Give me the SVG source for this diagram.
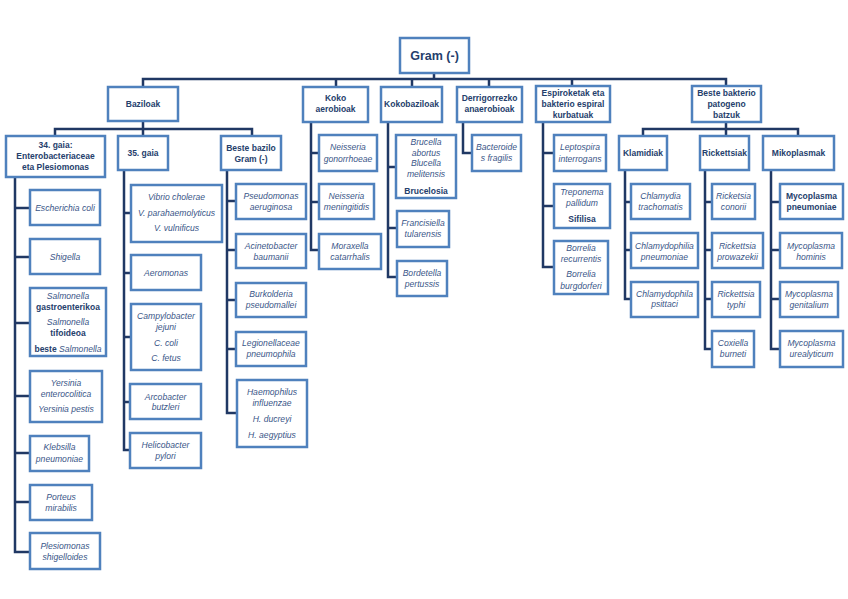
<svg xmlns="http://www.w3.org/2000/svg" width="848" height="599" viewBox="0 0 848 599">
<style>
.n rect{fill:#fff;stroke:#4F81BD;stroke-width:2.5}
text{font-family:"Liberation Sans",Arial,sans-serif;fill:#2B4674;text-anchor:middle}
.i{font-style:italic;font-size:8.6px;fill:#3A5688}
.b{font-weight:bold;font-size:8.5px;fill:#25406C}
.r{font-weight:bold;font-size:12.5px;fill:#25406C}
.c path{stroke:#203864;stroke-width:2.5;fill:none}
</style>
<rect width="848" height="599" fill="#fff"/>
<g class="c" id="connectors">
<path d="M434,73V79M143,87V79H726V86M336,79V87M412,79V87M489,79V87M572,79V86"/>
<path d="M143,121V136M55,136V129H252V136"/>
<path d="M726,122V136M643,136V129H798V136"/>
<path d="M15,177V552H30M15,208H30M15,257H30M15,323H30M15,396H30M15,453H30M15,502H30"/>
<path d="M124,170V450H130M124,213H131M124,273H131M124,337H131M124,402H130"/>
<path d="M227,170V413H237M227,201H236M227,250H236M227,300H236M227,349H236"/>
<path d="M311,122V250H319M311,153H319M311,202H319"/>
<path d="M388,122V277H397M388,167H396M388,228H397"/>
<path d="M463,122V153H472"/>
<path d="M543,122V267H554M543,153H554M543,206H554"/>
<path d="M625,170V299H631M625,202H631M625,250H631"/>
<path d="M705,170V349H712M705,202H712M705,250H712M705,299H712"/>
<path d="M771,170V349H780M771,202H780M771,250H780M771,299H780"/>
</g>
<g class="n" id="root"><rect x="400" y="38" width="69" height="35"/><text class="r" x="434.5" y="60">Gram (-)</text></g>
<g class="n" id="baziloak"><rect x="108" y="87" width="70" height="34"/><text class="b" x="143" y="107">Baziloak</text></g>
<g class="n" id="koko"><rect x="303" y="87" width="65" height="35"/><text class="b" x="335.5" y="101">Koko</text><text class="b" x="335.5" y="112">aerobioak</text></g>
<g class="n" id="kokobaziloak"><rect x="381" y="87" width="61" height="35"/><text class="b" x="411.5" y="107">Kokobaziloak</text></g>
<g class="n" id="derrig"><rect x="457" y="87" width="65" height="35"/><text class="b" x="489.5" y="101">Derrigorrezko</text><text class="b" x="489.5" y="112">anaerobioak</text></g>
<g class="n" id="espiro"><rect x="536" y="86" width="74" height="36"/><text class="b" x="573" y="96">Espiroketak eta</text><text class="b" x="573" y="107">bakterio espiral</text><text class="b" x="573" y="118">kurbatuak</text></g>
<g class="n" id="beste-bakterio"><rect x="692" y="86" width="69" height="36"/><text class="b" x="726.5" y="96">Beste bakterio</text><text class="b" x="726.5" y="107">patogeno</text><text class="b" x="726.5" y="118">batzuk</text></g>
<g class="n" id="gaia34"><rect x="6" y="136" width="99" height="41"/><text class="b" x="55.5" y="148">34. gaia:</text><text class="b" x="55.5" y="159">Enterobacteriaceae</text><text class="b" x="55.5" y="170">eta Plesiomonas</text></g>
<g class="n" id="gaia35"><rect x="118" y="136" width="50" height="34"/><text class="b" x="143" y="156">35. gaia</text></g>
<g class="n" id="beste-bazilo"><rect x="221" y="136" width="60" height="34"/><text class="b" x="251" y="151">Beste bazilo</text><text class="b" x="251" y="162">Gram (-)</text></g>
<g class="n" id="klamidiak"><rect x="619" y="136" width="48" height="34"/><text class="b" x="643" y="156">Klamidiak</text></g>
<g class="n" id="rickettsiak"><rect x="700" y="136" width="49" height="34"/><text class="b" x="724.5" y="156">Rickettsiak</text></g>
<g class="n" id="mikoplasmak"><rect x="763" y="136" width="71" height="34"/><text class="b" x="798.5" y="156">Mikoplasmak</text></g>
<g class="n" id="ecoli"><rect x="30" y="190" width="70" height="35"/><text class="i" x="65" y="211">Escherichia coli</text></g>
<g class="n" id="shigella"><rect x="30" y="239" width="70" height="35"/><text class="i" x="65" y="260">Shigella</text></g>
<g class="n" id="salmonella"><rect x="30" y="288" width="76" height="68"/><text class="i" x="68" y="299">Salmonella</text><text class="b" x="68" y="310">gastroenterikoa</text><text class="i" x="68" y="325">Salmonella</text><text class="b" x="68" y="336">tifoideoa</text><text x="68" y="352"><tspan class="b">beste </tspan><tspan class="i">Salmonella</tspan></text></g>
<g class="n" id="yersinia"><rect x="30" y="371" width="72" height="51"/><text class="i" x="66" y="386">Yersinia</text><text class="i" x="66" y="397">enterocolitica</text><text class="i" x="66" y="412">Yersinia pestis</text></g>
<g class="n" id="klebsilla"><rect x="30" y="436" width="59" height="35"/><text class="i" x="59.5" y="450">Klebsilla</text><text class="i" x="59.5" y="462">pneumoniae</text></g>
<g class="n" id="porteus"><rect x="30" y="485" width="62" height="35"/><text class="i" x="61" y="500">Porteus</text><text class="i" x="61" y="511">mirabilis</text></g>
<g class="n" id="plesiomonas"><rect x="30" y="533" width="70" height="36"/><text class="i" x="65" y="549">Plesiomonas</text><text class="i" x="65" y="560">shigelloides</text></g>
<g class="n" id="vibrio"><rect x="131" y="185" width="91" height="57"/><text class="i" x="176.5" y="200">Vibrio cholerae</text><text class="i" x="176.5" y="216">V. parahaemolyticus</text><text class="i" x="176.5" y="231">V. vulnificus</text></g>
<g class="n" id="aeromonas"><rect x="131" y="255" width="70" height="35"/><text class="i" x="166" y="276">Aeromonas</text></g>
<g class="n" id="campylobacter"><rect x="131" y="304" width="70" height="66"/><text class="i" x="166" y="319">Campylobacter</text><text class="i" x="166" y="330">jejuni</text><text class="i" x="166" y="346">C. coli</text><text class="i" x="166" y="361">C. fetus</text></g>
<g class="n" id="arcobacter"><rect x="130" y="384" width="71" height="35"/><text class="i" x="165.5" y="400">Arcobacter</text><text class="i" x="165.5" y="410">butzleri</text></g>
<g class="n" id="helicobacter"><rect x="130" y="433" width="71" height="35"/><text class="i" x="165.5" y="448">Helicobacter</text><text class="i" x="165.5" y="459">pylori</text></g>
<g class="n" id="pseudomonas"><rect x="236" y="184" width="70" height="35"/><text class="i" x="271" y="199">Pseudomonas</text><text class="i" x="271" y="210">aeruginosa</text></g>
<g class="n" id="acinetobacter"><rect x="236" y="234" width="70" height="34"/><text class="i" x="271" y="249">Acinetobacter</text><text class="i" x="271" y="260">baumanii</text></g>
<g class="n" id="burkolderia"><rect x="236" y="283" width="70" height="34"/><text class="i" x="271" y="297">Burkolderia</text><text class="i" x="271" y="308">pseudomallei</text></g>
<g class="n" id="legionellaceae"><rect x="236" y="332" width="70" height="34"/><text class="i" x="271" y="346">Legionellaceae</text><text class="i" x="271" y="357">pneumophila</text></g>
<g class="n" id="haemophilus"><rect x="237" y="380" width="70" height="67"/><text class="i" x="272" y="395">Haemophilus</text><text class="i" x="272" y="406">influenzae</text><text class="i" x="272" y="422">H. ducreyi</text><text class="i" x="272" y="438">H. aegyptius</text></g>
<g class="n" id="gonorrhoeae"><rect x="319" y="135" width="58" height="36"/><text class="i" x="348" y="150">Neisseria</text><text class="i" x="348" y="162">gonorrhoeae</text></g>
<g class="n" id="meningitidis"><rect x="319" y="184" width="55" height="35"/><text class="i" x="346.5" y="199">Neisseria</text><text class="i" x="346.5" y="210">meningitidis</text></g>
<g class="n" id="moraxella"><rect x="319" y="234" width="62" height="35"/><text class="i" x="350" y="249">Moraxella</text><text class="i" x="350" y="260">catarrhalis</text></g>
<g class="n" id="brucella"><rect x="396" y="135" width="60" height="63"/><text class="i" x="426" y="145">Brucella</text><text class="i" x="426" y="156">abortus</text><text class="i" x="426" y="166">Blucella</text><text class="i" x="426" y="177">melitensis</text><text class="b" x="426" y="194">Brucelosia</text></g>
<g class="n" id="francisiella"><rect x="397" y="211" width="52" height="36"/><text class="i" x="423" y="226">Francisiella</text><text class="i" x="423" y="237">tularensis</text></g>
<g class="n" id="bordetella"><rect x="397" y="261" width="50" height="35"/><text class="i" x="422" y="276">Bordetella</text><text class="i" x="422" y="287">pertussis</text></g>
<g class="n" id="bacteroides"><rect x="472" y="135" width="49" height="36"/><text class="i" x="496.5" y="150">Bacteroide</text><text class="i" x="496.5" y="161">s fragilis</text></g>
<g class="n" id="leptospira"><rect x="554" y="135" width="52" height="36"/><text class="i" x="580" y="150">Leptospira</text><text class="i" x="580" y="162">interrogans</text></g>
<g class="n" id="treponema"><rect x="554" y="184" width="56" height="44"/><text class="i" x="582" y="195">Treponema</text><text class="i" x="582" y="206">pallidum</text><text class="b" x="582" y="222">Sifilisa</text></g>
<g class="n" id="borrelia"><rect x="554" y="241" width="54" height="53"/><text class="i" x="581" y="251">Borrelia</text><text class="i" x="581" y="262">recurrentis</text><text class="i" x="581" y="277">Borrelia</text><text class="i" x="581" y="289">burgdorferi</text></g>
<g class="n" id="trachomatis"><rect x="631" y="184" width="59" height="35"/><text class="i" x="660.5" y="199">Chlamydia</text><text class="i" x="660.5" y="210">trachomatis</text></g>
<g class="n" id="chlamydophilia"><rect x="631" y="233" width="67" height="35"/><text class="i" x="664.5" y="249">Chlamydophilia</text><text class="i" x="664.5" y="260">pneumoniae</text></g>
<g class="n" id="psittaci"><rect x="631" y="282" width="67" height="35"/><text class="i" x="664.5" y="297">Chlamydophila</text><text class="i" x="664.5" y="307">psittaci</text></g>
<g class="n" id="conorii"><rect x="712" y="184" width="43" height="35"/><text class="i" x="733.5" y="199">Ricketsia</text><text class="i" x="733.5" y="210">conorii</text></g>
<g class="n" id="prowazekii"><rect x="712" y="233" width="51" height="35"/><text class="i" x="737.5" y="249">Rickettsia</text><text class="i" x="737.5" y="260">prowazekii</text></g>
<g class="n" id="typhi"><rect x="712" y="282" width="48" height="35"/><text class="i" x="736" y="297">Rickettsia</text><text class="i" x="736" y="308">typhi</text></g>
<g class="n" id="coxiella"><rect x="712" y="331" width="42" height="36"/><text class="i" x="733" y="346">Coxiella</text><text class="i" x="733" y="357">burneti</text></g>
<g class="n" id="mpneumoniae"><rect x="780" y="184" width="63" height="35"/><text class="b" x="811.5" y="199">Mycoplasma</text><text class="b" x="811.5" y="210">pneumoniae</text></g>
<g class="n" id="hominis"><rect x="780" y="233" width="62" height="35"/><text class="i" x="811" y="249">Mycoplasma</text><text class="i" x="811" y="260">hominis</text></g>
<g class="n" id="genitalium"><rect x="780" y="282" width="58" height="35"/><text class="i" x="809" y="297">Mycoplasma</text><text class="i" x="809" y="308">genitalium</text></g>
<g class="n" id="urealyticum"><rect x="780" y="331" width="63" height="36"/><text class="i" x="811.5" y="346">Mycoplasma</text><text class="i" x="811.5" y="357">urealyticum</text></g>
</svg>
